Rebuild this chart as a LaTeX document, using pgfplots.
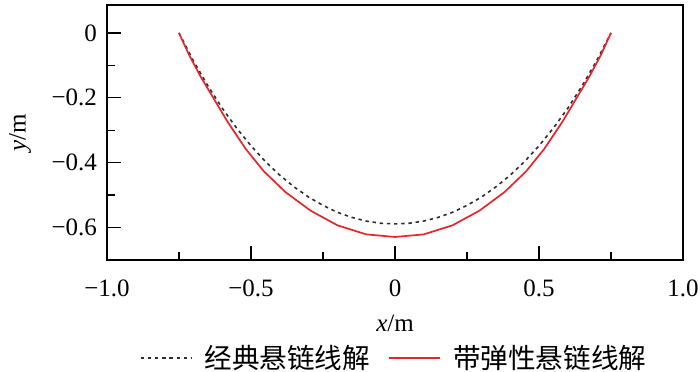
\documentclass[border=0pt]{standalone}
\usepackage{pgfplots}
\pgfplotsset{compat=1.18}
\usepackage{fontspec}
\setmainfont{Liberation Serif}
\newfontfamily\cjk{Noto Sans CJK SC}
\definecolor{myred}{RGB}{229,38,45}
\definecolor{mygray}{RGB}{45,45,45}
\begin{document}
\begin{tikzpicture}
\useasboundingbox (-53.5pt,-55.5pt) rectangle (296.5pt,130pt);
\begin{axis}[
  scale only axis,
  width=288pt, height=127.5pt,
  xmin=-1, xmax=1, ymin=-0.7, ymax=0.086,
  xtick={-1,-0.5,0,0.5,1},
  xticklabels={−1.0,−0.5,0,0.5,1.0},
  minor xtick={-0.75,-0.25,0.25,0.75},
  ytick={-0.6,-0.4,-0.2,0},
  yticklabels={−0.6,−0.4,−0.2,0},
  minor ytick={-0.5,-0.3,-0.1},
  tick align=inside,
  xtick pos=left, ytick pos=left,
  major tick length=7pt, minor tick length=3.8pt,
  every tick/.style={black, line width=0.7pt},
  axis line style={line width=0.8pt},
  tick label style={font=\fontsize{12.5}{14}\selectfont},
  xticklabel style={yshift=-6.5pt},
  yticklabel style={xshift=-1.5pt},
  xlabel={\textit{x}/m},
  ylabel={\textit{y}/m},
  label style={font=\fontsize{12.5}{14}\selectfont},
  xlabel style={at={(axis description cs:0.5,-0.247)}, anchor=center},
  ylabel style={at={(axis description cs:-0.151,0.5)}, anchor=center},
  legend columns=2,
  legend style={at={(0.5,-0.385)}, anchor=center, draw=none, fill=none,
    font=\fontsize{13.8}{15}\cjk, /tikz/every even column/.append style={column sep=7pt}},
  legend image code/.code={\draw[#1] (0cm,0cm) -- (0.9cm,0cm); \path (0.9cm+4pt,0cm);},
]
\addplot[mygray, line width=0.8pt, dash pattern=on 1.7pt off 1.9pt] coordinates {
(-0.75,0) (-0.7,-0.086) (-0.65,-0.1628) (-0.6,-0.232) (-0.55,-0.2934) (-0.5,-0.348)
(-0.45,-0.3964) (-0.4,-0.4385) (-0.35,-0.4749) (-0.3,-0.506) (-0.25,-0.5317)
(-0.2,-0.553) (-0.15,-0.5686) (-0.1,-0.580) (-0.05,-0.5867) (0,-0.5888)
(0.05,-0.5867) (0.1,-0.580) (0.15,-0.5686) (0.2,-0.553) (0.25,-0.5317)
(0.3,-0.506) (0.35,-0.4749) (0.4,-0.4385) (0.45,-0.3964) (0.5,-0.348)
(0.55,-0.2934) (0.6,-0.232) (0.65,-0.1628) (0.7,-0.086) (0.75,0)
};
\addlegendentry{经典悬链线解}
\addplot[myred, line width=0.85pt] coordinates {
(-0.75,0) (-0.715,-0.068) (-0.674,-0.136) (-0.625,-0.209) (-0.582,-0.273) (-0.518,-0.358)
(-0.455,-0.427) (-0.38,-0.491) (-0.293,-0.548) (-0.2,-0.593) (-0.1,-0.621)
(0,-0.629)
(0.1,-0.621) (0.2,-0.593) (0.293,-0.548) (0.38,-0.491) (0.455,-0.427)
(0.518,-0.358) (0.582,-0.273) (0.625,-0.209) (0.674,-0.136) (0.715,-0.068) (0.75,0)
};
\addlegendentry{带弹性悬链线解}
\end{axis}
\end{tikzpicture}
\end{document}
